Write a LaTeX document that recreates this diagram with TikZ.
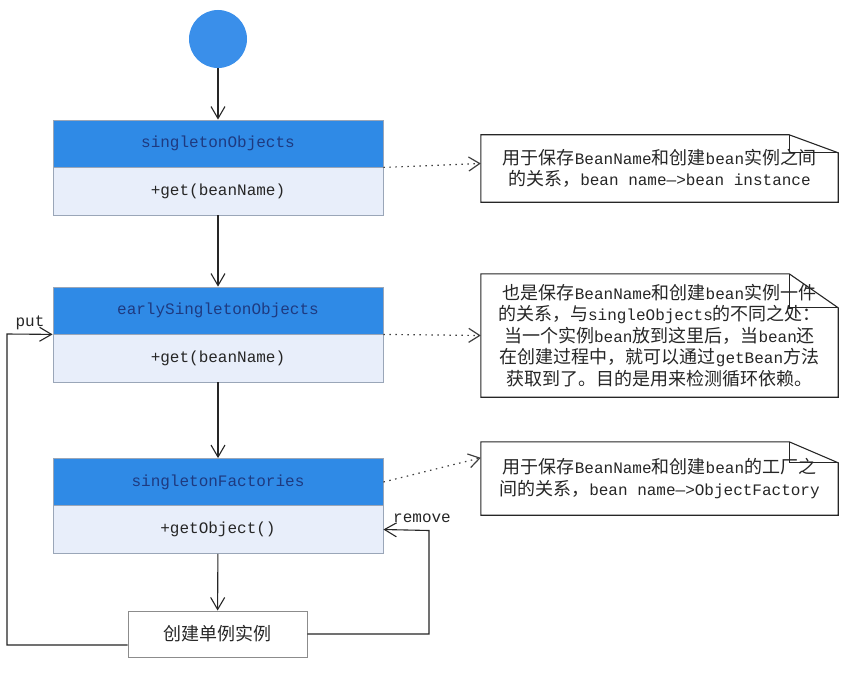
\documentclass[tikz,border=0pt]{standalone}
\usepackage{fontspec}
\setmonofont{Liberation Mono}
\newfontfamily\cjk{Noto Sans CJK SC}
\usetikzlibrary{arrows.meta}
\definecolor{hdr}{HTML}{2F8AE6}
\definecolor{bdy}{HTML}{E8EEFA}
\definecolor{hdrtxt}{HTML}{1E3A80}
\definecolor{circ}{HTML}{3A8FEA}
\definecolor{bord}{HTML}{9AA6B8}
\newcommand\zh[1]{{\cjk\fontsize{18}{21.5}\selectfont #1}}
\begin{document}
\begin{tikzpicture}[x=1pt,y=-1pt,
  hdrbox/.style={rectangle, fill=hdr, draw=bord, line width=0.8pt, minimum width=330pt, minimum height=47pt, inner sep=0pt, font=\ttfamily\fontsize{16}{18}\selectfont, text=hdrtxt},
  bdybox/.style={rectangle, fill=bdy, draw=bord, line width=0.8pt, minimum width=330pt, minimum height=48pt, inner sep=0pt, font=\ttfamily\fontsize{16}{18}\selectfont, text=black!85},
  endbox/.style={rectangle, fill=white, draw=black!45, line width=0.9pt, minimum width=179pt, minimum height=46pt, inner sep=0pt, font=\cjk\fontsize{18}{20}\selectfont, text=black!85},
  notetext/.style={rectangle, draw=none, minimum width=357pt, inner sep=0pt, align=center, font=\ttfamily\fontsize{16}{21.5}\selectfont, text=black!85},
  notebord/.style={draw=black!85, line width=1.1pt, line join=miter},
  flow/.style={-{Straight Barb[length=12pt,width=14pt]}, line width=1.1pt, draw=black!85},
  dotflow/.style={-{Straight Barb[length=11pt,width=14pt]}, line width=1.2pt, draw=black!75, dash pattern=on 1.5pt off 4.5pt},
  lbl/.style={inner sep=0pt, font=\ttfamily\fontsize{16}{18}\selectfont, text=black!85}
]
\useasboundingbox (0,0) rectangle (842,679);
\fill[white] (0,0) rectangle (842,679);

% start circle
\node[circle, fill=circ, minimum size=58pt, inner sep=0pt] (start) at (218,39) {};

% class boxes
\node[hdrbox] (h1) at (218,143.5) {singletonObjects};
\node[bdybox] (b1) at (218,191) {+get(beanName)};
\node[hdrbox] (h2) at (218,310.5) {earlySingletonObjects};
\node[bdybox] (b2) at (218,358) {+get(beanName)};
\node[hdrbox] (h3) at (218,482) {singletonFactories};
\node[bdybox] (b3) at (218,529.5) {+getObject()};
\node[endbox] (f) at (217.5,634) {创建单例实例};

% notes
\node[notetext, minimum height=67pt] (n1) at (659.5,168.5)
  {\zh{用于保存}BeanName\zh{和创建}bean\zh{实例之间}\\\zh{的关系，}bean name—>bean instance};
\node[notetext, minimum height=123pt] (n2) at (659.5,335.5)
  {\zh{也是保存}BeanName\zh{和创建}bean\zh{实例一件}\\
   \zh{的关系，与}singleObjects\zh{的不同之处：}\\
   \zh{当一个实例}bean\zh{放到这里后，当}bean\zh{还}\\
   \zh{在创建过程中，就可以通过}getBean\zh{方法}\\
   \zh{获取到了。目的是用来检测循环依赖。}};
\node[notetext, minimum height=73pt] (n3) at (659.5,478.5)
  {\zh{用于保存}BeanName\zh{和创建}bean\zh{的工厂之}\\\zh{间的关系，}bean name—>ObjectFactory};

\foreach \n/\d in {n1/18pt, n2/34pt, n3/21pt}{
  \draw[notebord] (\n.north west) -- ([xshift=-49pt]\n.north east) -- ([yshift=-\d]\n.north east) -- (\n.south east) -- (\n.south west) -- cycle;
  \draw[notebord] ([xshift=-49pt]\n.north east) -- ([xshift=-49pt,yshift=-\d]\n.north east) -- ([yshift=-\d]\n.north east);
}

% main flow
\draw[flow] (start) -- (h1);
\draw[flow] (b1) -- (h2);
\draw[flow] (b2) -- (h3);
\draw[flow] (b3) -- (f);

% dotted note links
\draw[dotflow] (h1.south east) -- ([yshift=5pt]n1.west);
\draw[dotflow] (h2.south east) -- (n2.west);
\draw[dotflow] (h3.east) -- ([yshift=-16pt]n3.north west);

% put loop
\coordinate (p1) at (7,645);
\coordinate (p2) at (7,334);
\draw[flow] ([yshift=-11pt]f.west) -- (p1) -- (p2) -- (h2.south west);
\node[lbl] (putl) at (30,323) {put};

% remove loop
\coordinate (r1) at (429,634);
\coordinate (r2) at (429,530.5);
\draw[flow] (f.east) -- (r1) -- (r2) -- (b3.east);
\node[lbl] (reml) at (422,518) {remove};
\end{tikzpicture}
\end{document}
